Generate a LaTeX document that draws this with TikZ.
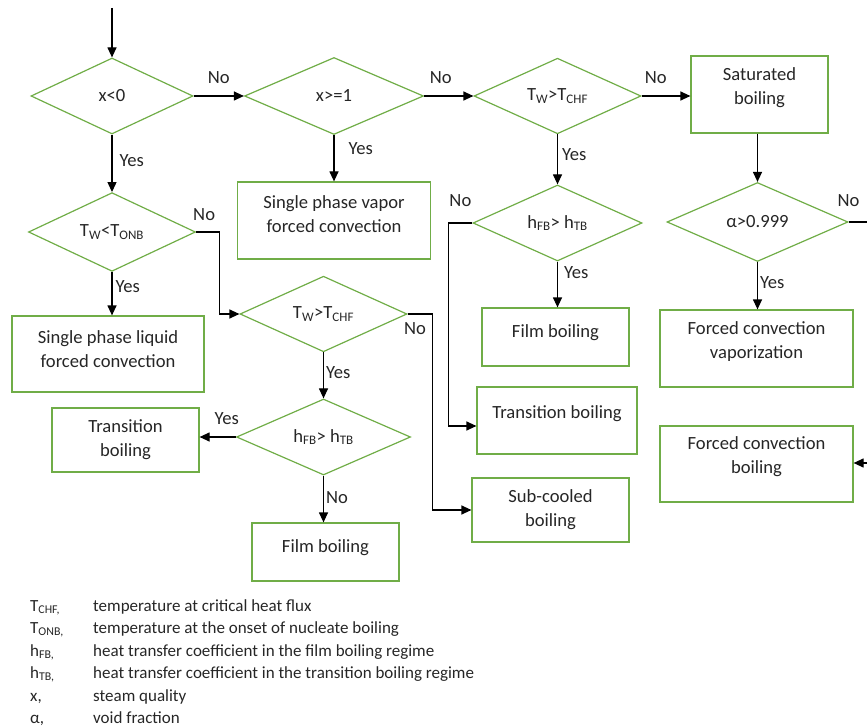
\documentclass[tikz,border=0pt]{standalone}
\usepackage{fontspec}
\setmainfont{Carlito}
\usetikzlibrary{shapes.geometric,arrows.meta}
\definecolor{boxgreen}{RGB}{112,173,71}
\definecolor{txtgray}{RGB}{38,38,38}

\begin{document}
\begin{tikzpicture}[x=1pt, y=-1pt, font=\fontsize{18.6}{24}\selectfont, text=txtgray]
    \tikzstyle{decision_style} = [draw=boxgreen, line width=1.2, diamond, inner sep=0pt]
    \tikzstyle{box_style} = [draw=boxgreen, line width=1.2, rectangle, inner sep=0pt]
    \tikzstyle{text_style} = [align=center, inner sep=0pt]
    \tikzstyle{arrow_style} = [-{Triangle[length=10pt, width=9pt]}, black, line width=1.2]
    \tikzstyle{line_style} = [black, line width=1.2]
    \tikzstyle{answer_style} = [inner sep=0pt, text=txtgray]
    \tikzstyle{legend_style} = [anchor=base west, inner sep=0pt, font=\fontsize{17}{22}\selectfont]

    \useasboundingbox (0,0) rectangle (867,727);

    % decisions
    \node[decision_style, minimum width=162pt, minimum height=76pt] (d_xneg) at (112,96) {x<0};
    \node[decision_style, minimum width=179pt, minimum height=77pt] (d_xone) at (334,96) {x>=1};
    \node[decision_style, minimum width=167pt, minimum height=73pt] (d_chf_sat) at (557.5,96) {T\textsubscript{W}>T\textsubscript{CHF}};
    \node[decision_style, minimum width=181pt, minimum height=79pt] (d_void) at (757.5,222) {α>0.999};
    \node[decision_style, minimum width=169pt, minimum height=74pt] (d_hfb_sat) at (557.5,223) {h\textsubscript{FB}> h\textsubscript{TB}};
    \node[decision_style, minimum width=167pt, minimum height=74pt] (d_onb) at (112,232) {T\textsubscript{W}<T\textsubscript{ONB}};
    \node[decision_style, minimum width=167pt, minimum height=74pt] (d_chf_sub) at (323.5,314) {T\textsubscript{W}>T\textsubscript{CHF}};
    \node[decision_style, minimum width=174pt, minimum height=74pt] (d_hfb_sub) at (323.5,437) {h\textsubscript{FB}> h\textsubscript{TB}};

    % regimes
    \node[box_style, minimum width=137pt, minimum height=77pt] (sat) at (759.5,94.5) {};
    \node[text_style] (sat_txt) at ([yshift=6.5pt]sat.center) {Saturated\\boiling};
    \node[box_style, minimum width=193pt, minimum height=77pt] (vapor) at (334,220.5) {};
    \node[text_style] (vapor_txt) at ([yshift=6.5pt]vapor.center) {Single phase vapor\\forced convection};
    \node[box_style, minimum width=192pt, minimum height=76pt] (liquid) at (108,354) {};
    \node[text_style] (liquid_txt) at ([yshift=5pt]liquid.center) {Single phase liquid\\forced convection};
    \node[box_style, minimum width=147pt, minimum height=58pt] (film_sat) at (555.5,337) {};
    \node[text_style] (film_sat_txt) at ([yshift=4pt]film_sat.center) {Film boiling};
    \node[box_style, minimum width=160pt, minimum height=67pt] (trans_sat) at (557,420.5) {};
    \node[text_style] (trans_sat_txt) at ([yshift=6.5pt]trans_sat.center) {Transition boiling};
    \node[box_style, minimum width=157pt, minimum height=64pt] (subcool) at (550.5,510) {};
    \node[text_style] (subcool_txt) at ([yshift=0pt]subcool.center) {Sub-cooled\\boiling};
    \node[box_style, minimum width=193pt, minimum height=77pt] (fcv) at (756.5,348.5) {};
    \node[text_style] (fcv_txt) at ([yshift=6.5pt]fcv.center) {Forced convection\\vaporization};
    \node[box_style, minimum width=193pt, minimum height=76pt] (fcb) at (756.5,464) {};
    \node[text_style] (fcb_txt) at ([yshift=7.5pt]fcb.center) {Forced convection\\boiling};
    \node[box_style, minimum width=147pt, minimum height=64pt] (trans_sub) at (125.5,440) {};
    \node[text_style] (trans_sub_txt) at ([yshift=0pt]trans_sub.center) {Transition\\boiling};
    \node[box_style, minimum width=147pt, minimum height=58pt] (film_sub) at (325.5,552) {};
    \node[text_style] (film_sub_txt) at ([yshift=4pt]film_sub.center) {Film boiling};

    \coordinate (start) at (112,8);
    \coordinate (void_out) at (867,222);
    \coordinate (fcb_in) at (867,463);

    % connectors
    \draw[arrow_style] (start) -- (d_xneg.north);
    \draw[arrow_style] (d_xneg.east) -- node[answer_style, above=12pt] {No} (d_xone.west);
    \draw[arrow_style] (d_xone.east) -- node[answer_style, above=12pt, pos=0.34] {No} (d_chf_sat.west);
    \draw[arrow_style] (d_chf_sat.east) -- node[answer_style, above=12pt, pos=0.29] {No} (d_chf_sat.east -| sat.west);
    \draw[arrow_style] (d_xneg.south) -- node[answer_style, right=7pt, pos=0.45] {Yes} (d_onb.north);
    \draw[arrow_style] (d_xone.south) -- node[answer_style, right=14pt, pos=0.3] {Yes} (d_xone.south |- vapor.north);
    \draw[arrow_style] (d_chf_sat.south) -- node[answer_style, right=4pt, pos=0.4] {Yes} (d_hfb_sat.north);
    \draw[arrow_style] (d_hfb_sat.south) -- node[answer_style, right=6pt, pos=0.25] {Yes} (d_hfb_sat.south |- film_sat.north);
    \draw[arrow_style] (d_hfb_sat.west) -- node[answer_style, above=16pt] {No} ++(-24,0) |- ([yshift=-5.5pt]trans_sat.west);
    \draw[arrow_style] (d_void.north |- sat.south) -- (d_void.north);
    \draw[arrow_style] (d_void.south) -- node[answer_style, right=2pt, pos=0.43] {Yes} (d_void.south |- fcv.north);
    \draw[line_style] (d_void.east) node[answer_style, above=15pt] {No} -- (void_out);
    \draw[arrow_style] (fcb_in) -- (fcb_in -| fcb.east);
    \draw[arrow_style] (d_onb.south) -- node[answer_style, right=3pt, pos=0.34] {Yes} (d_onb.south |- liquid.north);
    \draw[arrow_style] (d_onb.east) -- node[answer_style, above=11pt, pos=0.35] {No} ++(23,0) |- (d_chf_sub.west);
    \draw[arrow_style] (d_chf_sub.east) -- node[answer_style, below=8pt, pos=0.3] {No} ++(25,0) |- (subcool.west);
    \draw[arrow_style] (d_chf_sub.south) -- node[answer_style, right=2pt, pos=0.43] {Yes} (d_hfb_sub.north);
    \draw[arrow_style] (d_hfb_sub.west) -- node[answer_style, above=12pt, pos=0.25] {Yes} (d_hfb_sub.west -| trans_sub.east);
    \draw[arrow_style] (d_hfb_sub.south) -- node[answer_style, right=2pt, pos=0.47] {No} (d_hfb_sub.south |- film_sub.north);

    % legend
    \node[legend_style] (sym_chf) at (30,611) {T\textsubscript{CHF,}};
    \node[legend_style] (def_chf) at (93,611) {temperature at critical heat flux};
    \node[legend_style] (sym_onb) at (30,633) {T\textsubscript{ONB,}};
    \node[legend_style] (def_onb) at (93,633) {temperature at the onset of nucleate boiling};
    \node[legend_style] (sym_hfb) at (30,656) {h\textsubscript{FB,}};
    \node[legend_style] (def_hfb) at (93,656) {heat transfer coefficient in the film boiling regime};
    \node[legend_style] (sym_htb) at (30,678) {h\textsubscript{TB,}};
    \node[legend_style] (def_htb) at (93,678) {heat transfer coefficient in the transition boiling regime};
    \node[legend_style] (sym_x) at (30,701) {x,};
    \node[legend_style] (def_x) at (93,701) {steam quality};
    \node[legend_style] (sym_alpha) at (30,723) {α,};
    \node[legend_style] (def_alpha) at (93,723) {void fraction};
\end{tikzpicture}
\end{document}
